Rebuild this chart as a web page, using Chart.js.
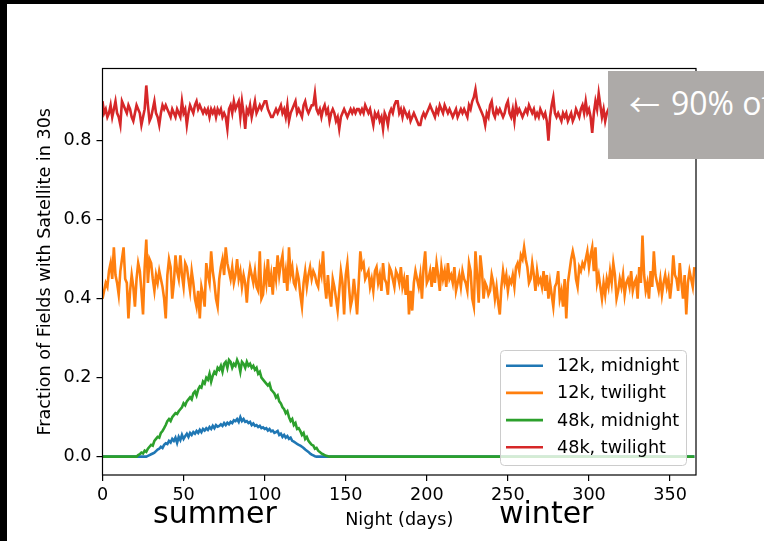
<!DOCTYPE html>
<html>
<head>
<meta charset="utf-8">
<script src="https://cdn.jsdelivr.net/npm/chart.js@4.4.1/dist/chart.umd.min.js"></script>
<style>
  html, body { margin: 0; padding: 0; background: #000; overflow: hidden; width: 764px; height: 541px; }
  #page { position: absolute; left: 7px; top: 4px; width: 757px; height: 537px; background: #fff; }
  #wrap { position: absolute; left: 0; top: 0; width: 764px; height: 541px; }
  .season { position: absolute; font-family: "DejaVu Sans"; font-size: 30px; line-height: 30px; color: #000; white-space: nowrap; }
  #note { position: absolute; left: 608px; top: 71px; width: 156px; height: 88px; background: #adaaa8; overflow: hidden; }
  #note .arrow { position: absolute; left: 21px; top: 16px; font-family: "Noto Sans CJK JP"; font-size: 31px; line-height: 31px; color: #fff; white-space: nowrap; }
  #note .txt { position: absolute; left: 63px; top: 16px; font-family: "Open Sans"; font-size: 32px; line-height: 32px; color: #fff; white-space: nowrap; }
</style>
</head>
<body>
<div id="page"></div>
<div id="wrap"><canvas id="chart"></canvas></div>
<div class="season" style="left:153px; top:498px;">summer</div>
<div class="season" style="left:499px; top:498px;">winter</div>
<div id="note"><span class="arrow">←</span><span class="txt">90% of</span></div>
<script>
// Fraction of fields with a satellite streak in a 30s exposure, per night of the year

const seriesNames = ['12k, midnight', '12k, twilight', '48k, midnight', '48k, twilight'];
const seriesColors = ['#1f77b4', '#ff7f0e', '#2ca02c', '#d62728'];
const xTicks = [0, 50, 100, 150, 200, 250, 300, 350];
const yTicks = [0.0, 0.2, 0.4, 0.6, 0.8];

// one value per night, rows of 10 nights
const midnight12k = [
  0, 0, 0, 0, 0, 0, 0, 0, 0, 0,
  0, 0, 0, 0, 0, 0, 0, 0, 0, 0,
  0, 0, 0, 0, 0, 0, 0, 0, .002, .004,
  .006, .008, .010, .014, .018, .020, .025, .022, .030, .034,
  .032, .040, .036, .045, .040, .048, .035, .050, .042, .055,
  .045, .052, .058, .050, .060, .055, .062, .058, .065, .060,
  .068, .062, .070, .066, .072, .068, .075, .070, .078, .072,
  .080, .076, .078, .082, .078, .085, .080, .086, .082, .088,
  .085, .092, .090, .095, .088, .100, .090, .095, .088, .090,
  .085, .088, .080, .084, .078, .080, .075, .078, .072, .074,
  .070, .072, .066, .070, .064, .066, .060, .062, .065, .055,
  .058, .050, .055, .048, .052, .045, .048, .040, .038, .035,
  .032, .030, .028, .025, .022, .018, .015, .012, .008, .005,
  .003, .001, 0, 0, 0, 0, 0, 0, 0, 0,
  0, 0, 0, 0, 0, 0, 0, 0, 0, 0,
  0, 0, 0, 0, 0, 0, 0, 0, 0, 0,
  0, 0, 0, 0, 0, 0, 0, 0, 0, 0,
  0, 0, 0, 0, 0, 0, 0, 0, 0, 0,
  0, 0, 0, 0, 0, 0, 0, 0, 0, 0,
  0, 0, 0, 0, 0, 0, 0, 0, 0, 0,
  0, 0, 0, 0, 0, 0, 0, 0, 0, 0,
  0, 0, 0, 0, 0, 0, 0, 0, 0, 0,
  0, 0, 0, 0, 0, 0, 0, 0, 0, 0,
  0, 0, 0, 0, 0, 0, 0, 0, 0, 0,
  0, 0, 0, 0, 0, 0, 0, 0, 0, 0,
  0, 0, 0, 0, 0, 0, 0, 0, 0, 0,
  0, 0, 0, 0, 0, 0, 0, 0, 0, 0,
  0, 0, 0, 0, 0, 0, 0, 0, 0, 0,
  0, 0, 0, 0, 0, 0, 0, 0, 0, 0,
  0, 0, 0, 0, 0, 0, 0, 0, 0, 0,
  0, 0, 0, 0, 0, 0, 0, 0, 0, 0,
  0, 0, 0, 0, 0, 0, 0, 0, 0, 0,
  0, 0, 0, 0, 0, 0, 0, 0, 0, 0,
  0, 0, 0, 0, 0, 0, 0, 0, 0, 0,
  0, 0, 0, 0, 0, 0, 0, 0, 0, 0,
  0, 0, 0, 0, 0, 0, 0, 0, 0, 0,
  0, 0, 0, 0, 0, 0
];

const twilight12k = [
  .40, .42, .44, .43, .47, .49, .45, .53, .46, .44,
  .41, .47, .50, .53, .45, .44, .35, .42, .46, .43,
  .38, .45, .49, .47, .42, .36, .48, .55, .44, .50,
  .49, .45, .42, .46, .44, .47, .45, .43, .40, .35,
  .46, .50, .48, .40, .44, .51, .47, .45, .51, .46,
  .43, .49, .48, .45, .42, .47, .44, .40, .38, .42,
  .35, .43, .41, .38, .49, .46, .44, .52, .47, .44,
  .40, .38, .45, .48, .50, .46, .53, .49, .47, .45,
  .48, .44, .46, .50, .45, .47, .43, .46, .44, .39,
  .45, .48, .46, .44, .47, .43, .42, .52, .40, .41,
  .47, .44, .50, .43, .46, .41, .48, .45, .51, .46,
  .49, .51, .44, .47, .42, .53, .46, .48, .44, .43,
  .47, .45, .41, .38, .44, .47, .43, .46, .48, .45,
  .47, .46, .44, .43, .48, .46, .52, .44, .40, .46,
  .41, .38, .45, .43, .40, .37, .42, .47, .44, .36,
  .46, .49, .43, .38, .40, .45, .41, .36, .44, .52,
  .48, .49, .45, .46, .47, .43, .45, .42, .47, .48,
  .44, .46, .42, .49, .45, .44, .41, .48, .47, .45,
  .43, .47, .46, .44, .48, .43, .45, .41, .46, .36,
  .42, .37, .44, .47, .45, .43, .46, .40, .48, .52,
  .44, .45, .47, .43, .48, .44, .49, .46, .42, .48,
  .45, .47, .43, .49, .45, .46, .44, .48, .42, .44,
  .46, .43, .47, .45, .44, .42, .49, .47, .40, .38,
  .52, .46, .39, .51, .47, .40, .44, .43, .41, .42,
  .46, .44, .40, .43, .39, .36, .43, .47, .44, .46,
  .42, .45, .44, .46, .43, .48, .49, .47, .51, .50,
  .53, .50, .48, .44, .45, .49, .46, .42, .47, .44,
  .45, .43, .47, .42, .46, .40, .44, .41, .38, .43,
  .44, .47, .40, .42, .38, .45, .35, .44, .47, .50,
  .52, .50, .45, .43, .48, .47, .49, .48, .50, .52,
  .48, .51, .53, .47, .53, .44, .46, .43, .40, .44,
  .41, .45, .43, .47, .44, .49, .46, .40, .42, .45,
  .43, .46, .41, .44, .45, .43, .47, .42, .44, .45,
  .40, .48, .44, .56, .46, .42, .44, .40, .47, .43,
  .52, .46, .44, .42, .45, .41, .44, .46, .43, .45,
  .40, .44, .51, .46, .45, .42, .49, .44, .40, .46,
  .36, .44, .47, .45, .43, .48
];

const midnight48k = [
  0, 0, 0, 0, 0, 0, 0, 0, 0, 0,
  0, 0, 0, 0, 0, 0, 0, 0, 0, 0,
  0, 0, .004, .006, .010, .008, .015, .012, .020, .025,
  .030, .028, .040, .045, .050, .048, .060, .065, .072, .080,
  .090, .095, .090, .100, .105, .110, .108, .115, .120, .125,
  .135, .130, .140, .145, .150, .145, .160, .165, .155, .170,
  .178, .175, .190, .185, .200, .195, .210, .190, .205, .215,
  .210, .225, .220, .230, .215, .235, .240, .225, .245, .240,
  .225, .235, .230, .245, .235, .215, .240, .235, .225, .240,
  .230, .235, .225, .230, .220, .225, .210, .215, .200, .195,
  .190, .185, .180, .185, .170, .165, .160, .150, .155, .140,
  .135, .125, .120, .110, .115, .100, .090, .095, .080, .085,
  .070, .072, .065, .055, .060, .045, .050, .040, .035, .030,
  .028, .020, .022, .015, .012, .008, .006, .004, .002, .001,
  0, 0, 0, 0, 0, 0, 0, 0, 0, 0,
  0, 0, 0, 0, 0, 0, 0, 0, 0, 0,
  0, 0, 0, 0, 0, 0, 0, 0, 0, 0,
  0, 0, 0, 0, 0, 0, 0, 0, 0, 0,
  0, 0, 0, 0, 0, 0, 0, 0, 0, 0,
  0, 0, 0, 0, 0, 0, 0, 0, 0, 0,
  0, 0, 0, 0, 0, 0, 0, 0, 0, 0,
  0, 0, 0, 0, 0, 0, 0, 0, 0, 0,
  0, 0, 0, 0, 0, 0, 0, 0, 0, 0,
  0, 0, 0, 0, 0, 0, 0, 0, 0, 0,
  0, 0, 0, 0, 0, 0, 0, 0, 0, 0,
  0, 0, 0, 0, 0, 0, 0, 0, 0, 0,
  0, 0, 0, 0, 0, 0, 0, 0, 0, 0,
  0, 0, 0, 0, 0, 0, 0, 0, 0, 0,
  0, 0, 0, 0, 0, 0, 0, 0, 0, 0,
  0, 0, 0, 0, 0, 0, 0, 0, 0, 0,
  0, 0, 0, 0, 0, 0, 0, 0, 0, 0,
  0, 0, 0, 0, 0, 0, 0, 0, 0, 0,
  0, 0, 0, 0, 0, 0, 0, 0, 0, 0,
  0, 0, 0, 0, 0, 0, 0, 0, 0, 0,
  0, 0, 0, 0, 0, 0, 0, 0, 0, 0,
  0, 0, 0, 0, 0, 0, 0, 0, 0, 0,
  0, 0, 0, 0, 0, 0
];

const twilight48k = [
  .90, .87, .88, .86, .87, .89, .86, .88, .90, .87,
  .86, .84, .90, .89, .88, .87, .89, .88, .86, .85,
  .87, .89, .88, .87, .84, .86, .88, .94, .89, .85,
  .86, .88, .90, .87, .86, .84, .87, .89, .88, .89,
  .88, .87, .86, .88, .87, .86, .88, .87, .86, .90,
  .87, .88, .84, .87, .89, .88, .87, .89, .90, .88,
  .89, .88, .87, .88, .87, .88, .86, .88, .87, .88,
  .86, .88, .87, .88, .86, .87, .86, .83, .88, .89,
  .87, .90, .88, .89, .90, .86, .90, .87, .83, .88,
  .87, .89, .86, .88, .90, .87, .88, .89, .88, .89,
  .90, .90, .88, .87, .86, .86, .87, .88, .87, .88,
  .89, .87, .88, .86, .89, .85, .87, .88, .89, .90,
  .87, .88, .87, .86, .89, .90, .88, .87, .88, .89,
  .89, .92, .88, .87, .88, .86, .88, .89, .87, .88,
  .85, .87, .88, .87, .85, .86, .83, .86, .87, .88,
  .87, .86, .87, .88, .87, .88, .87, .88, .88, .87,
  .88, .87, .89, .88, .87, .88, .86, .84, .87, .86,
  .87, .85, .86, .83, .87, .86, .84, .87, .88, .87,
  .89, .90, .90, .87, .88, .86, .88, .87, .86, .87,
  .85, .86, .87, .86, .85, .84, .84, .86, .87, .86,
  .87, .88, .89, .88, .87, .86, .88, .87, .89, .88,
  .87, .89, .88, .87, .88, .87, .86, .87, .88, .86,
  .87, .88, .87, .88, .87, .86, .89, .88, .90, .91,
  .93, .90, .89, .88, .87, .86, .84, .87, .86, .89,
  .90, .87, .86, .88, .87, .88, .87, .86, .87, .89,
  .90, .87, .86, .88, .85, .89, .87, .88, .87, .86,
  .87, .88, .87, .89, .88, .87, .88, .86, .87, .86,
  .88, .87, .86, .87, .85, .80, .86, .89, .91, .87,
  .86, .87, .86, .85, .87, .86, .87, .85, .86, .87,
  .85, .86, .88, .87, .86, .88, .89, .87, .90, .87,
  .88, .86, .82, .87, .90, .88, .92, .89, .86, .88,
  .85, .87, .88, .86, .89, .87, .86, .88, .90, .87,
  .86, .88, .87, .89, .86, .88, .87, .85, .88, .87,
  .89, .88, .86, .87, .88, .90, .87, .86, .88, .87,
  .85, .87, .88, .89, .87, .86, .88, .87, .89, .88,
  .86, .87, .88, .86, .89, .87, .88, .86, .87, .88,
  .89, .87, .86, .88, .87, .88
];

const nights = twilight48k.map((_, i) => i);

Chart.defaults.font.family = 'DejaVu Sans';
Chart.defaults.font.size = 17.6;
Chart.defaults.color = '#000';

// axes box + matplotlib style legend in the lower right
const framePlugin = {
  id: 'frame',
  afterDatasetsDraw(chart) {
    const { ctx, chartArea: a } = chart;
    ctx.save();
    ctx.strokeStyle = '#000';
    ctx.lineWidth = 1.2;
    ctx.strokeRect(a.left, a.top, a.right - a.left, a.bottom - a.top);
    ctx.restore();
  },
  afterDraw(chart) {
    const ctx = chart.ctx;
    const x0 = 500, y0 = 350, w = 186, h = 115, r = 4;
    ctx.save();
    ctx.beginPath();
    ctx.roundRect(x0 + 0.5, y0 + 0.5, w, h, r);
    ctx.fillStyle = 'rgba(255,255,255,0.8)';
    ctx.fill();
    ctx.strokeStyle = '#cccccc';
    ctx.lineWidth = 1;
    ctx.stroke();
    ctx.font = '17.6px "DejaVu Sans"';
    ctx.textBaseline = 'middle';
    ctx.fillStyle = '#000';
    seriesNames.forEach((name, i) => {
      const y = 365.7 + i * 27.2;
      ctx.beginPath();
      ctx.moveTo(506, y);
      ctx.lineTo(543, y);
      ctx.strokeStyle = seriesColors[i];
      ctx.lineWidth = 2.6;
      ctx.stroke();
      ctx.fillText(name, 557, y + 1);
    });
    ctx.restore();
  }
};

const seriesData = [midnight12k, twilight12k, midnight48k, twilight48k];

new Chart(document.getElementById('chart'), {
  type: 'line',
  data: {
    labels: nights,
    datasets: seriesData.map((d, i) => ({
      label: seriesNames[i],
      data: d,
      borderColor: seriesColors[i],
      backgroundColor: seriesColors[i],
      borderWidth: 2.6,
      pointRadius: 0,
      tension: 0,
      fill: false,
      order: 4 - i
    }))
  },
  options: {
    responsive: true,
    maintainAspectRatio: false,
    animation: false,
    devicePixelRatio: 1,
    layout: { padding: { top: 68.5, right: 68, left: 0, bottom: 0 } },
    plugins: {
      legend: { display: false },
      tooltip: { enabled: false }
    },
    scales: {
      x: {
        type: 'linear',
        min: 0,
        max: 366,
        afterBuildTicks: scale => { scale.ticks = xTicks.map(v => ({ value: v })); },
        afterFit: scale => { scale.height = 66; },
        grid: { drawOnChartArea: false, drawTicks: true, tickLength: 6, color: '#000', lineWidth: 1.2 },
        border: { display: false },
        ticks: { autoSkip: false, maxRotation: 0, padding: 4, color: '#000', callback: v => String(v) },
        title: { display: true, text: 'Night (days)', color: '#000', padding: { top: 0, bottom: 10 } }
      },
      y: {
        min: -0.0465,
        max: 0.983,
        afterBuildTicks: scale => { scale.ticks = yTicks.map(v => ({ value: v })); },
        afterFit: scale => { scale.width = 102.5; },
        grid: { drawOnChartArea: false, drawTicks: true, tickLength: 6, color: '#000', lineWidth: 1.2 },
        border: { display: false },
        ticks: { autoSkip: false, padding: 5, color: '#000', callback: v => v.toFixed(1) },
        title: { display: true, text: 'Fraction of Fields with Satellite in 30s', color: '#000', padding: { top: 35, bottom: 0 } }
      }
    }
  },
  plugins: [framePlugin]
});
</script>
</body>
</html>
